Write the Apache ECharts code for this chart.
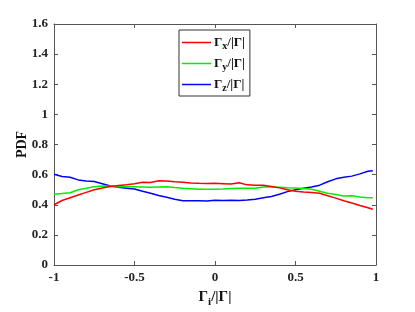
<!DOCTYPE html>
<html><head><meta charset="utf-8">
<script src="https://cdn.jsdelivr.net/npm/echarts@6/dist/echarts.min.js"></script>
<style>html,body{margin:0;padding:0;background:#fff}#c{width:415px;height:312px}</style>
</head><body><div id="c"></div>
<script>
const xValues = [-1,-0.95,-0.9,-0.85,-0.8,-0.75,-0.7,-0.65,-0.6,-0.55,-0.5,-0.45,-0.4,-0.35,-0.3,-0.25,-0.2,-0.15,-0.1,-0.05,0,0.05,0.1,0.15,0.2,0.25,0.3,0.35,0.4,0.45,0.5,0.55,0.6,0.65,0.7,0.75,0.8,0.85,0.9,0.95,0.98];
const gammaX = [0.400,0.428,0.447,0.465,0.482,0.499,0.511,0.521,0.528,0.533,0.540,0.549,0.548,0.560,0.558,0.553,0.549,0.545,0.542,0.541,0.542,0.540,0.538,0.546,0.532,0.530,0.529,0.521,0.512,0.500,0.489,0.484,0.481,0.476,0.460,0.444,0.427,0.412,0.395,0.380,0.370];
const gammaY = [0.470,0.474,0.480,0.500,0.509,0.520,0.525,0.523,0.520,0.520,0.519,0.518,0.516,0.518,0.520,0.514,0.509,0.506,0.503,0.503,0.503,0.505,0.508,0.509,0.509,0.510,0.518,0.519,0.516,0.513,0.511,0.508,0.503,0.490,0.476,0.468,0.458,0.460,0.452,0.447,0.447];
const gammaZ = [0.603,0.588,0.583,0.565,0.558,0.554,0.540,0.525,0.516,0.510,0.504,0.490,0.476,0.462,0.450,0.437,0.426,0.427,0.427,0.425,0.430,0.428,0.430,0.429,0.431,0.436,0.446,0.455,0.470,0.487,0.500,0.509,0.518,0.530,0.553,0.572,0.583,0.590,0.605,0.622,0.626];
const seriesNames = ['x','y','z'];
const seriesColors = ['#ff0000','#00ee00','#0000ff'];
const xTicks = [-1,-0.5,0,0.5,1];
const yTicks = [0,0.2,0.4,0.6,0.8,1,1.2,1.4,1.6];

const FONT = '"Liberation Serif", "DejaVu Serif", serif';
const axisColor = '#555';
const chart = echarts.init(document.getElementById('c'), null, {renderer:'canvas'});
const pair = a => xValues.map((x,i)=>[x,a[i]]);
const allData = [gammaX, gammaY, gammaZ];

const commonAxis = {
  axisLine:{show:true, onZero:false, lineStyle:{color:axisColor, width:1}},
  axisTick:{show:true, inside:true, length:4, lineStyle:{color:axisColor}},
  splitLine:{show:false}
};
const labelStyle = {fontFamily:FONT, fontWeight:'bold', fontSize:13, color:'#222'};

chart.setOption({
  animation:false,
  grid:{left:54, right:39, top:24, bottom:47, outerBoundsMode:'none', containLabel:false},
  legend:{
    orient:'vertical', left:179, top:30,
    padding:[4,5,3,3], itemGap:4,
    borderColor:'#333', borderWidth:1, backgroundColor:'#fff',
    icon:'rect', itemWidth:29, itemHeight:1.5,
    data: seriesNames.map(n=>'Γ'+n),
    formatter: n => '{a|Γ}{s|'+n.slice(1)+'}{a|/|Γ|}',
    textStyle:{
      padding:[0,0,0,-2],
      rich:{
        a:{fontFamily:FONT, fontWeight:'bold', fontSize:13, color:'#111', lineHeight:14},
        s:{fontFamily:FONT, fontWeight:'bold', fontSize:10, color:'#111', lineHeight:10, padding:[7,0,0,0]}
      }
    }
  },
  xAxis:[
    Object.assign({type:'value', min:-1, max:1, interval:0.5, position:'bottom',
      name:'{a|Γ}{s|i}{a|/|Γ|}', nameLocation:'middle', nameGap:22, nameMoveOverlap:false,
      nameTextStyle:{rich:{
        a:{fontFamily:FONT, fontWeight:'bold', fontSize:15, color:'#111'},
        s:{fontFamily:FONT, fontWeight:'bold', fontSize:11, color:'#111', padding:[10,0,0,0]}
      }},
      axisLabel:Object.assign({margin:6, formatter:v=>String(v)}, labelStyle)}, commonAxis),
    Object.assign({type:'value', min:-1, max:1, interval:0.5, position:'top', axisLabel:{show:false}}, commonAxis)
  ],
  yAxis:[
    Object.assign({type:'value', min:0, max:1.6, interval:0.2, position:'left',
      name:'PDF', nameLocation:'middle', nameGap:25, nameRotate:90, nameMoveOverlap:false,
      nameTextStyle:{fontFamily:FONT, fontWeight:'bold', fontSize:14, color:'#111'},
      axisLabel:Object.assign({margin:6, formatter:v=>String(Math.round(v*10)/10)}, labelStyle)}, commonAxis),
    Object.assign({type:'value', min:0, max:1.6, interval:0.2, position:'right', axisLabel:{show:false}}, commonAxis)
  ],
  series: seriesNames.map((n,i)=>({
    name:'Γ'+n, type:'line', showSymbol:false, symbol:'none',
    data:pair(allData[i]), lineStyle:{color:seriesColors[i], width:1.5},
    itemStyle:{color:seriesColors[i]}, z:3-i
  }))
});
</script></body></html>
